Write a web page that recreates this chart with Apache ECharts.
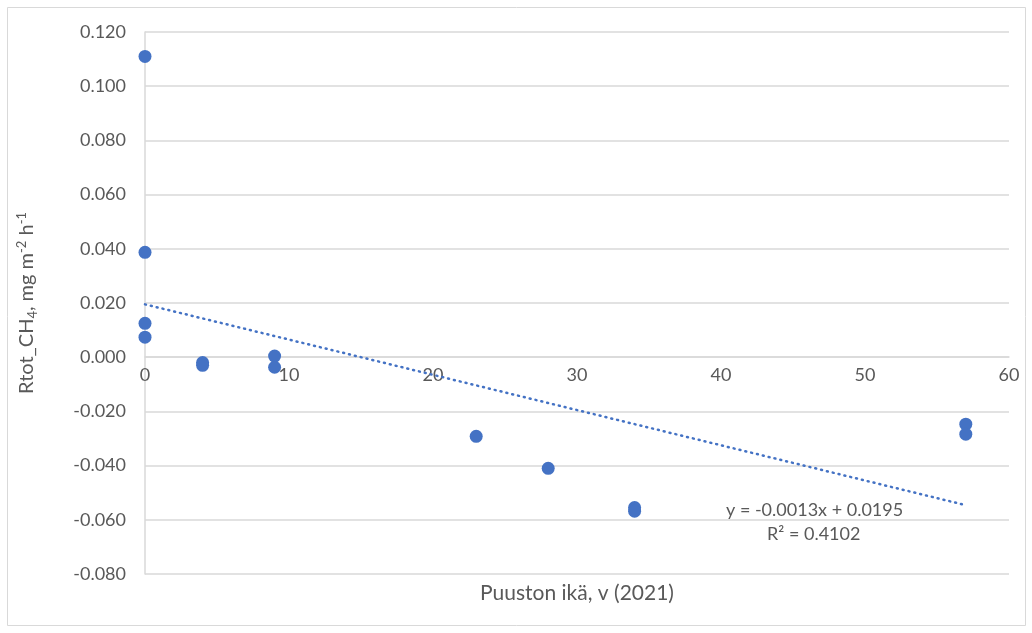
<!DOCTYPE html>
<html>
<head>
<meta charset="utf-8">
<script src="https://cdn.jsdelivr.net/npm/echarts@6/dist/echarts.min.js"></script>
<style>
  html, body { margin: 0; padding: 0; background: #ffffff; }
  #chart { width: 1032px; height: 633px; }
</style>
</head>
<body>
<div id="chart"></div>
<script>
// Stand age (years) and measured CH4 flux per plot
const standAge = [0, 0, 0, 0, 4, 4, 9, 9, 23, 28, 34, 34, 57, 57];
const ch4Flux = [0.111, 0.0387, 0.0125, 0.0074, -0.0020, -0.0030, 0.0004, -0.0037,
                 -0.0292, -0.0410, -0.0555, -0.0568, -0.0247, -0.0284];

// Linear trend as reported on the chart
const trendSlope = -0.0013;
const trendIntercept = 0.0195;
const trendRange = [0, 57];
const trendLabel = ['y = -0.0013x + 0.0195', 'R\u00b2 = 0.4102'];

const yTicks = { min: -0.08, max: 0.12, step: 0.02 };
const xTicks = { min: 0, max: 60, step: 10 };

const textColor = '#595959';
const gridColor = '#D9D9D9';
const markColor = '#4472C4';
const fontFamily = 'Lato, "Open Sans", sans-serif';

const gridBox = { left: 145, right: 23, top: 32, bottom: 59 };
const plotHeight = 633 - gridBox.top - gridBox.bottom;
// lift the x axis so it crosses the y axis at zero
const zeroOffset = -plotHeight * (0 - yTicks.min) / (yTicks.max - yTicks.min);

const points = standAge.map((x, i) => [x, ch4Flux[i]]);
const trendPoints = trendRange.map(x => [x, trendSlope * x + trendIntercept]);

const chart = echarts.init(document.getElementById('chart'));
chart.setOption({
  animation: false,
  backgroundColor: '#ffffff',
  textStyle: { fontFamily: fontFamily },
  grid: Object.assign({ containLabel: false, outerBoundsMode: 'none' }, gridBox),
  graphic: [
    {
      type: 'rect',
      shape: { x: 7.5, y: 7.5, width: 1018, height: 618 },
      style: { fill: 'none', stroke: '#D9D9D9', lineWidth: 1 },
      silent: true
    },
    {
      type: 'text',
      left: 726, top: 501,
      style: { text: trendLabel[0], fill: textColor, font: '18px ' + fontFamily }
    },
    {
      type: 'text',
      left: 767, top: 525,
      style: { text: trendLabel[1], fill: textColor, font: '18px ' + fontFamily }
    }
  ],
  xAxis: {
    type: 'value',
    min: xTicks.min, max: xTicks.max, interval: xTicks.step,
    offset: zeroOffset,
    name: 'Puuston ikä, v (2021)',
    nameLocation: 'middle',
    nameGap: 226,
    nameTextStyle: { color: textColor, fontSize: 21, fontFamily: fontFamily },
    axisLine: { show: true, onZero: false, lineStyle: { color: gridColor, width: 1.5 } },
    axisTick: { show: false },
    axisLabel: { color: textColor, fontSize: 18, margin: 9, fontFamily: fontFamily },
    splitLine: { show: false }
  },
  yAxis: {
    type: 'value',
    min: yTicks.min, max: yTicks.max, interval: yTicks.step,
    name: '{m|Rtot_CH}{sub|4}{m|, mg m}{sup|-2}{m| h}{sup|-1}',
    nameLocation: 'middle',
    nameRotate: 90,
    nameGap: 106,
    nameTextStyle: {
      color: textColor,
      fontFamily: fontFamily,
      rich: {
        m: { fontSize: 20, color: textColor, fontFamily: fontFamily, lineHeight: 24 },
        sub: { fontSize: 13, color: textColor, fontFamily: fontFamily, verticalAlign: 'bottom', lineHeight: 13 },
        sup: { fontSize: 13, color: textColor, fontFamily: fontFamily, verticalAlign: 'top', lineHeight: 13 }
      }
    },
    axisLine: { show: true, onZero: false, lineStyle: { color: gridColor, width: 1.5 } },
    axisTick: { show: false },
    axisLabel: {
      color: textColor, fontSize: 18, margin: 19, fontFamily: fontFamily,
      formatter: v => v.toFixed(3)
    },
    splitLine: { show: true, lineStyle: { color: gridColor, width: 1.5 } }
  },
  series: [
    {
      type: 'line',
      data: trendPoints,
      symbol: 'none',
      lineStyle: { color: markColor, width: 2.5, type: [1, 5], cap: 'round' },
      z: 2,
      silent: true
    },
    {
      type: 'scatter',
      data: points,
      symbolSize: 13,
      itemStyle: { color: markColor, opacity: 1 },
      z: 3
    }
  ]
});
</script>
</body>
</html>
